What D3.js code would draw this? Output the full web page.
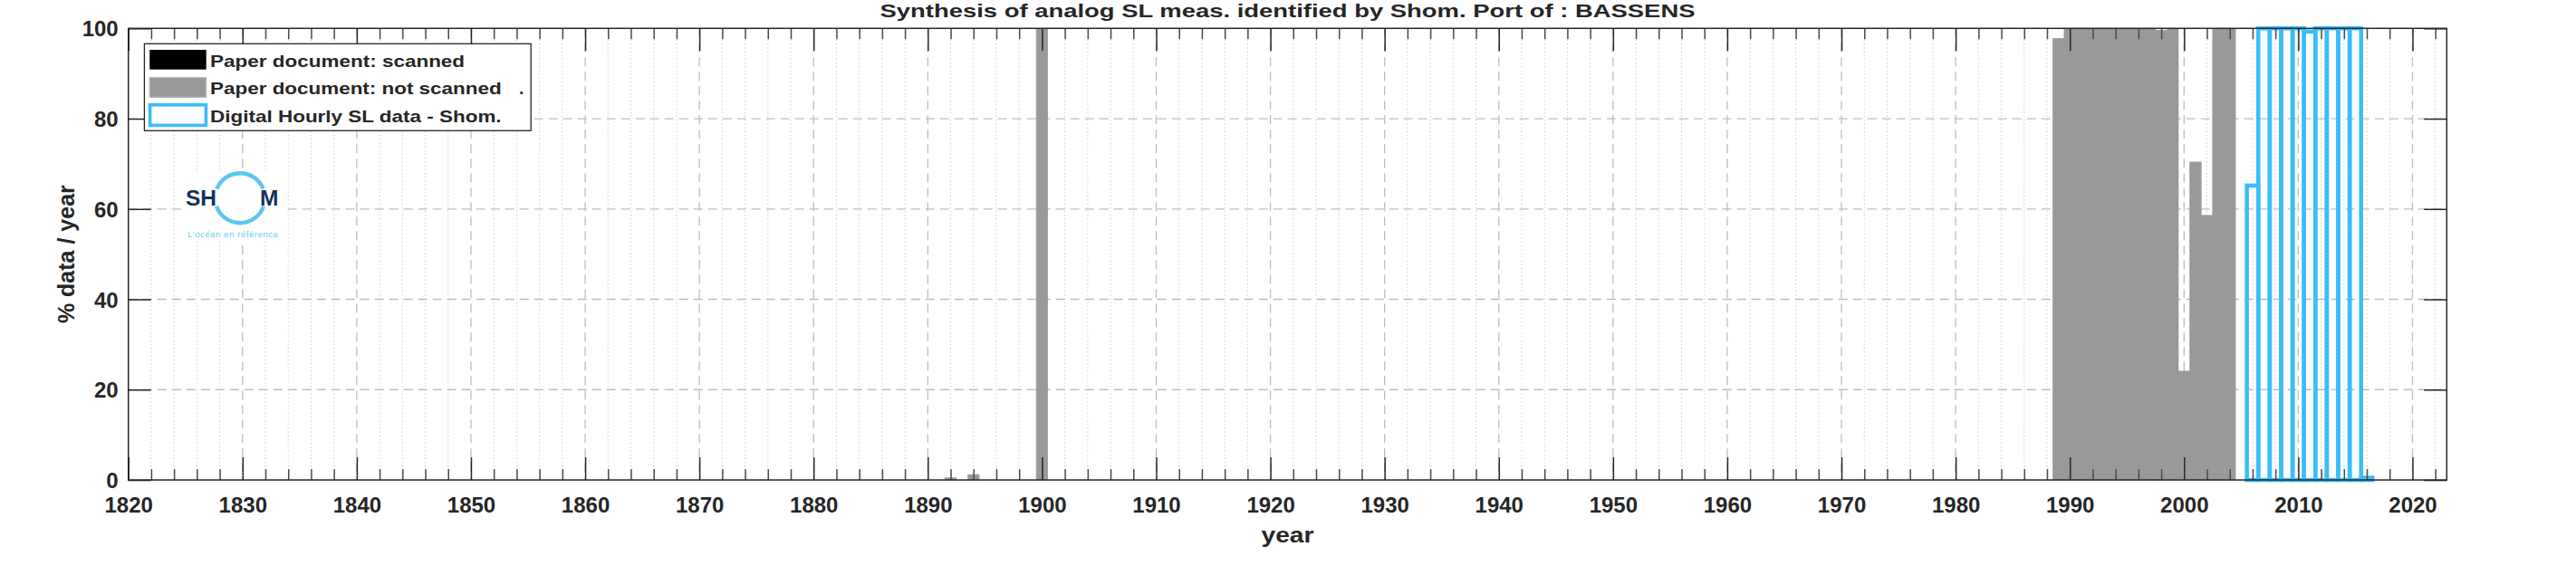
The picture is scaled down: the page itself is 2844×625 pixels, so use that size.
<!DOCTYPE html>
<html>
<head>
<meta charset="utf-8">
<script src="https://cdn.jsdelivr.net/npm/d3@7"></script>
<style>
  html, body { margin: 0; padding: 0; background: #fff; }
  svg { display: block; }
  text { font-family: "Liberation Sans", Arial, Helvetica, sans-serif; font-weight: bold; fill: #262626; }
</style>
</head>
<body>
<svg id="chart" width="2844" height="625"></svg>
<script>
// ---------------- DATA ----------------
const titleText = "Synthesis of analog SL meas. identified by Shom. Port of : BASSENS";
const xLabelText = "year";
const yLabelText = "% data / year";

const scannedYears = [];
const scannedValues = [];

const notScannedYears  = [1892, 1894, 1900, 1989, 1990, 1991, 1992, 1993, 1994, 1995, 1996, 1997, 1998, 1999, 2000, 2001, 2002, 2003, 2004];
const notScannedValues = [0.5,  1.2,  100,  97.8, 100,  100,  100,  100,  100,  100,  100,  100,  99.6, 100,  24.1, 70.4, 58.6, 100,  100];

const digitalYears  = [2006, 2007, 2008, 2009, 2010, 2011, 2012, 2013, 2014, 2015, 2016];
const digitalValues = [65.2, 100,  100,  100,  100,  99.3, 100,  100,  100,  100,  0.5];

const xMajorTicks = d3.range(1820, 2021, 10);
const xMinorTicks = d3.range(1820, 2023, 2);
const yTicks = [0, 20, 40, 60, 80, 100];

const legendLabels = ["Paper document: scanned", "Paper document: not scanned", "Digital Hourly SL data - Shom."];

// ---------------- LAYOUT ----------------
(function () {
const svg = d3.select("#chart");
const pL = 141.7, pR = 2701.3, pT = 31.3, pB = 530;
const x = d3.scaleLinear().domain([1820, 2023]).range([pL, pR]);
const y = d3.scaleLinear().domain([0, 100]).range([pB, pT]);

const GRAY = "#999999", CYAN = "#38bdfd", DARK = "#262626";

// grid
const grid = svg.append("g");
grid.selectAll("line.vminor").data(xMinorTicks.filter(t => t % 10 !== 0 && t > 1820)).join("line")
  .attr("x1", d => x(d)).attr("x2", d => x(d)).attr("y1", pT).attr("y2", pB)
  .attr("stroke", "#c4c4c4").attr("stroke-width", 1).attr("stroke-dasharray", "1.2,3");
grid.selectAll("line.vmajor").data(xMajorTicks.filter(t => t > 1820)).join("line")
  .attr("x1", d => x(d)).attr("x2", d => x(d)).attr("y1", pT).attr("y2", pB)
  .attr("stroke", "#bdbdbd").attr("stroke-width", 1.3).attr("stroke-dasharray", "10,6");
grid.selectAll("line.hmajor").data(yTicks.filter(t => t > 0 && t < 100)).join("line")
  .attr("x1", pL).attr("x2", pR).attr("y1", d => y(d)).attr("y2", d => y(d))
  .attr("stroke", "#bdbdbd").attr("stroke-width", 1.3).attr("stroke-dasharray", "10,6");

// logo (drawn as vector)
const logo = svg.append("g");
logo.append("rect").attr("x", 200).attr("y", 188).attr("width", 113).attr("height", 78).attr("fill", "#fff");
const cx = 265, cy = 218.7, r = 27.5;
const arc = d3.arc().innerRadius(r - 2.2).outerRadius(r + 2.2);
logo.append("path").attr("transform", `translate(${cx},${cy})`)
  .attr("d", arc({startAngle: -Math.PI/2 + 0.38, endAngle: Math.PI/2 - 0.38})).attr("fill", "#5ec6ee");
logo.append("path").attr("transform", `translate(${cx},${cy})`)
  .attr("d", arc({startAngle: Math.PI/2 + 0.33, endAngle: 3*Math.PI/2 - 0.33})).attr("fill", "#5ec6ee");
logo.append("text").attr("x", 205).attr("y", 226.5).attr("font-size", 24.5)
  .style("fill", "#14305e").text("SH");
logo.append("text").attr("x", 287).attr("y", 226.5).attr("font-size", 24.5)
  .style("fill", "#14305e").text("M");
logo.append("text").attr("x", 207).attr("y", 262).attr("font-size", 9.5).attr("textLength", 100)
  .style("fill", "#6ccaf0").style("font-weight", "normal").text("L'océan en référence");

// bars
const bars = svg.append("g");
bars.selectAll("rect.ns").data(notScannedYears.map((d, i) => ({yr: d, v: notScannedValues[i]}))).join("rect")
  .attr("x", d => x(d.yr - 0.5)).attr("width", d => x(d.yr + 0.5) - x(d.yr - 0.5))
  .attr("y", d => y(d.v)).attr("height", d => y(0) - y(d.v))
  .attr("fill", GRAY).attr("stroke", GRAY).attr("stroke-width", 0.6);
bars.selectAll("rect.sc").data(scannedYears.map((d, i) => ({yr: d, v: scannedValues[i]}))).join("rect")
  .attr("x", d => x(d.yr - 0.5)).attr("width", d => x(d.yr + 0.5) - x(d.yr - 0.5))
  .attr("y", d => y(d.v)).attr("height", d => y(0) - y(d.v))
  .attr("fill", "#000");
bars.selectAll("rect.dg").data(digitalYears.map((d, i) => ({yr: d, v: digitalValues[i]}))).join("rect")
  .attr("x", d => x(d.yr - 0.5)).attr("width", d => x(d.yr + 0.5) - x(d.yr - 0.5))
  .attr("y", d => y(d.v)).attr("height", d => y(0) - y(d.v))
  .attr("fill", "none").attr("stroke", CYAN).attr("stroke-width", 4.5);

// axes ticks (inward)
const H = pB - pT, W = pR - pL;
function styleAxis(g, color, width) {
  g.select(".domain").remove();
  g.selectAll(".tick line").attr("stroke", color).attr("stroke-width", width);
}
const minorOnly = xMinorTicks.filter(t => t % 10 !== 0);
svg.append("g").attr("transform", `translate(0,${pB})`)
  .call(d3.axisBottom(x).tickValues(minorOnly).tickSize(-12).tickFormat(""))
  .call(g => styleAxis(g, "#4a4a4a", 1.5));
svg.append("g").attr("transform", `translate(0,${pT})`)
  .call(d3.axisTop(x).tickValues(minorOnly).tickSize(-12).tickFormat(""))
  .call(g => styleAxis(g, "#4a4a4a", 1.5));
const xAxis = svg.append("g").attr("transform", `translate(0,${pB})`)
  .call(d3.axisBottom(x).tickValues(xMajorTicks).tickSize(-25).tickPadding(19).tickFormat(d3.format("d")))
  .call(g => styleAxis(g, DARK, 1.5));
xAxis.attr("font-family", null).attr("font-size", null);
xAxis.selectAll("text").attr("font-size", 24).style("fill", DARK);
svg.append("g").attr("transform", `translate(0,${pT})`)
  .call(d3.axisTop(x).tickValues(xMajorTicks).tickSize(-25).tickFormat(""))
  .call(g => styleAxis(g, DARK, 1.5));
const yAxis = svg.append("g").attr("transform", `translate(${pL},0)`)
  .call(d3.axisLeft(y).tickValues(yTicks).tickSize(-25).tickPadding(11))
  .call(g => styleAxis(g, DARK, 1.5));
yAxis.attr("font-family", null).attr("font-size", null);
yAxis.selectAll("text").attr("font-size", 24).style("fill", DARK).attr("dy", "0.36em");
svg.append("g").attr("transform", `translate(${pR},0)`)
  .call(d3.axisRight(y).tickValues(yTicks).tickSize(-25).tickFormat(""))
  .call(g => styleAxis(g, DARK, 1.5));

// frame
svg.append("rect").attr("x", pL).attr("y", pT).attr("width", W).attr("height", H)
  .attr("fill", "none").attr("stroke", DARK).attr("stroke-width", 1.5);

// title and labels
svg.append("text").attr("x", (pL + pR) / 2).attr("y", 19).attr("text-anchor", "middle")
  .attr("font-size", 21).attr("textLength", 900).attr("lengthAdjust", "spacingAndGlyphs").text(titleText);
svg.append("text").attr("x", (pL + pR) / 2).attr("y", 599).attr("text-anchor", "middle")
  .attr("font-size", 24).attr("textLength", 58).attr("lengthAdjust", "spacingAndGlyphs").text(xLabelText);
svg.append("text").attr("transform", `translate(82,${(pT + pB) / 2}) rotate(-90)`).attr("text-anchor", "middle")
  .attr("font-size", 25).text(yLabelText);

// legend
const lg = svg.append("g");
lg.append("rect").attr("x", 159.4).attr("y", 48.3).attr("width", 426.8).attr("height", 96)
  .attr("fill", "#fff").attr("stroke", DARK).attr("stroke-width", 1.3);
lg.append("rect").attr("x", 165.2).attr("y", 55).attr("width", 62.5).attr("height", 21.7).attr("fill", "#000");
lg.append("rect").attr("x", 165.2).attr("y", 85.7).attr("width", 62.5).attr("height", 21.7)
  .attr("fill", GRAY).attr("stroke", "#b5b5b5").attr("stroke-width", 1);
lg.append("rect").attr("x", 165.6).attr("y", 115.8).attr("width", 61.8).attr("height", 22.6)
  .attr("fill", "none").attr("stroke", CYAN).attr("stroke-width", 3.6);
const baseY = [74, 104, 134.5];
const textLen = [281, 321.5, 321.5];
lg.selectAll("text.lg").data(legendLabels).join("text")
  .attr("x", 232.1).attr("y", (d, i) => baseY[i]).attr("font-size", 19)
  .attr("textLength", (d, i) => textLen[i]).attr("lengthAdjust", "spacingAndGlyphs")
  .text(d => d);
lg.append("text").attr("x", 573).attr("y", baseY[1]).attr("font-size", 19).text(".");
})();
</script>
</body>
</html>
